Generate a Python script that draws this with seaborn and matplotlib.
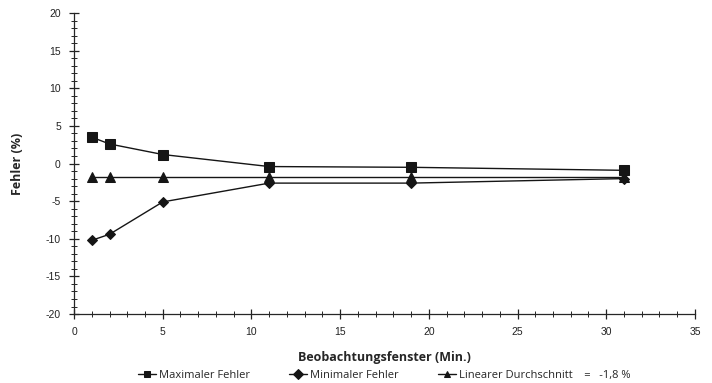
import numpy as np
import pandas as pd
import seaborn as sns
import matplotlib.pyplot as plt
from matplotlib.ticker import MultipleLocator

# Datos
fenster = [1, 2, 5, 11, 19, 31]
max_fehler = [3.5, 2.6, 1.2, -0.4, -0.5, -0.9]
min_fehler = [-10.2, -9.4, -5.1, -2.6, -2.6, -2.0]
durchschnitt = [-1.8, -1.8, -1.8, -1.8, -1.8, -1.8]

serien = ["Maximaler Fehler", "Minimaler Fehler", "Linearer Durchschnitt    =   -1,8 %"]

df = pd.DataFrame({
    "Fenster": fenster * 3,
    "Fehler": max_fehler + min_fehler + durchschnitt,
    "Serie": [serien[0]] * 6 + [serien[1]] * 6 + [serien[2]] * 6,
})

sns.set_style("ticks")
plt.rcParams['font.family'] = ['Liberation Sans', 'DejaVu Sans']
plt.rcParams['axes.unicode_minus'] = False

fig = plt.figure(figsize=(7.12, 3.83), dpi=100)
ax = fig.add_axes([0.104, 0.180, 0.872, 0.786])

sns.lineplot(data=df, x="Fenster", y="Fehler", hue="Serie", style="Serie",
             palette=["#151515"] * 3, markers=["s", "D", "^"], dashes=False,
             markersize=6.5, linewidth=1.0, markeredgecolor="#151515", ax=ax)

# ajustar tamano del rombo
for line in ax.lines:
    if line.get_marker() == "D":
        line.set_markersize(5)

ax.set_xlim(0, 35)
ax.set_ylim(-20, 20)
ax.xaxis.set_major_locator(MultipleLocator(5))
ax.xaxis.set_minor_locator(MultipleLocator(1))
ax.yaxis.set_major_locator(MultipleLocator(5))
ax.yaxis.set_minor_locator(MultipleLocator(1))
ax.tick_params(which="major", direction="inout", length=7, width=0.9, labelsize=7.5,
               colors="#222222", pad=6)
ax.tick_params(which="minor", direction="inout", length=4, width=0.7)
sns.despine(ax=ax)
ax.spines["left"].set_linewidth(0.9)
ax.spines["bottom"].set_linewidth(0.9)

ax.set_xlabel("Beobachtungsfenster (Min.)", fontsize=9, fontweight="bold",
              family="Open Sans", labelpad=10)
ax.set_ylabel("Fehler (%)", fontsize=9, fontweight="bold", family="Open Sans", labelpad=16)

handles, labels = ax.get_legend_handles_labels()
for h in handles:
    h.set_markersize(5)
ax.legend(handles, labels, loc="center", bbox_to_anchor=(0.5, -0.205), ncol=3,
          frameon=False, prop={"family": "Open Sans", "size": 8}, handlelength=1.6,
          handletextpad=0.3, columnspacing=3.5, borderpad=0)

plt.savefig("out.png", dpi=100)
